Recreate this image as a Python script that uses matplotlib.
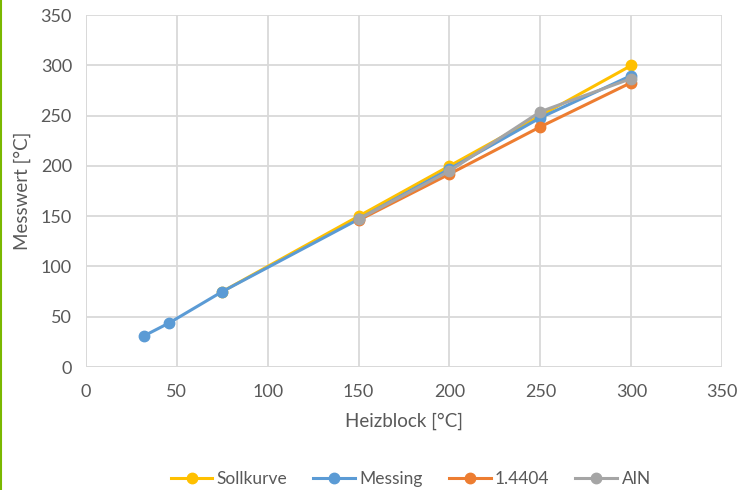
import matplotlib.pyplot as plt
from matplotlib.lines import Line2D

plt.rcParams['font.family'] = ['Lato', 'DejaVu Sans']

heizblock = [32, 46, 75, 150, 200, 250, 300]
heizblock_soll = [75, 150, 200, 250, 300]
heizblock_hi = [150, 200, 250, 300]

sollkurve = [75, 150, 200, 250, 300]
messing = [31, 44, 75, 147, 197, 248, 290]
stahl_14404 = [146, 192, 239, 283]
aln = [147, 195, 254, 287]

labels = ["Sollkurve", "Messing", "1.4404", "AlN"]
colors = ["#ffc000", "#5b9bd5", "#ed7d31", "#a5a5a5"]

ticks = [0, 50, 100, 150, 200, 250, 300, 350]
text_col = "#595959"
grid_col = "#d9d9d9"

fig = plt.figure(figsize=(7.4, 4.9), dpi=100)
ax = fig.add_axes([0.116, 0.251, 0.86, 0.718])

series = [(heizblock_soll, sollkurve), (heizblock, messing),
          (heizblock_hi, stahl_14404), (heizblock_hi, aln)]
for (xs, ys), lab, col in zip(series, labels, colors):
    ax.plot(xs, ys, color=col, lw=2.2, marker="o", ms=7.5, label=lab)

ax.set_xlim(0, 350)
ax.set_ylim(0, 350)
ax.set_xticks(ticks)
ax.set_yticks(ticks)
ax.grid(True, color=grid_col, lw=1.3)
ax.set_axisbelow(True)
for s in ax.spines.values():
    s.set_visible(False)
ax.axhline(0, color=grid_col, lw=1.3, zorder=0.5)
ax.axvline(0, color=grid_col, lw=1.3, zorder=0.5)
ax.tick_params(length=0, labelsize=13, colors=text_col)
ax.tick_params(axis="x", pad=12)
ax.tick_params(axis="y", pad=10)

ax.set_xlabel("Heizblock [°C]", fontsize=13.5, color=text_col, labelpad=9)
ax.set_ylabel("Messwert [°C]", fontsize=13.5, color=text_col, labelpad=7)

leg = fig.legend(loc="center", bbox_to_anchor=(0.555, 0.022), ncol=4,
                 frameon=False, fontsize=12.5, handlelength=2.4,
                 columnspacing=1.5, handletextpad=0.25)
for t in leg.get_texts():
    t.set_color(text_col)

# green border line on the left
fig.add_artist(Line2D([0.002, 0.002], [0, 1], color="#7ab800", lw=1.5,
                      transform=fig.transFigure))

fig.savefig("out.png", dpi=100)
plt.close(fig)
